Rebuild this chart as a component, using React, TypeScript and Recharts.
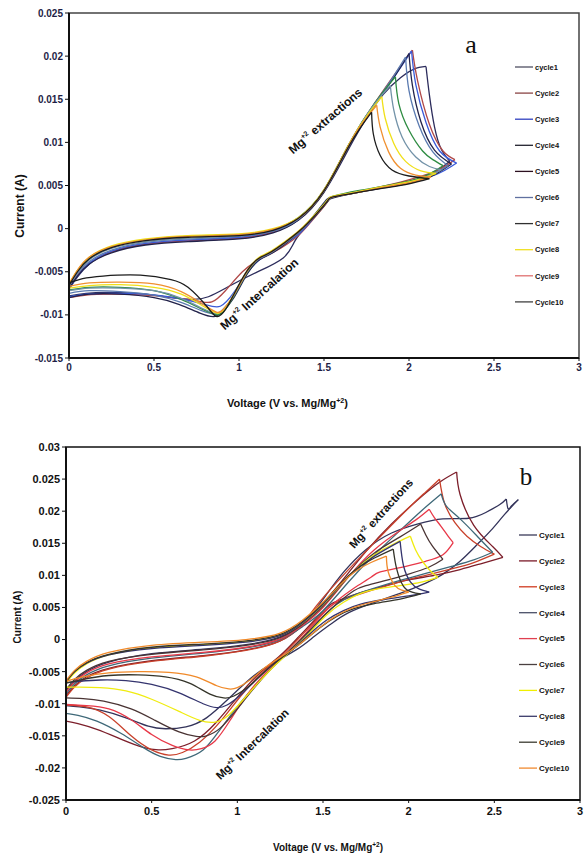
import React from "react"
import { LineChart, Line, XAxis, YAxis, ReferenceArea } from "recharts"

type Pt = [number, number]

// ---- panel a : voltage (V), current (A) ----
const cycleA1: Pt[] = [
  [0, -0.007], [0.05, -0.0056], [0.12, -0.0041], [0.25, -0.0027], [0.45, -0.0018], [0.7, -0.0014], [1.0, -0.0011],
  [1.2, -0.0004], [1.35, 0.001], [1.5, 0.0042], [1.65, 0.0094], [1.75, 0.0128], [1.85, 0.0156], [1.95, 0.0175],
  [2.03, 0.0185], [2.1, 0.0188],
  [2.12, 0.0155], [2.15, 0.0118], [2.19, 0.0092], [2.24, 0.0078],
  [2.1, 0.006], [1.9, 0.005], [1.7, 0.0043], [1.55, 0.0037], [1.5, 0.003], [1.42, 0.001], [1.33, -0.0014],
  [1.26, -0.0034], [1.1, -0.0051], [0.95, -0.0066], [0.82, -0.0079], [0.72, -0.0082], [0.6, -0.008],
  [0.45, -0.0076], [0.25, -0.0074], [0.1, -0.0075], [0, -0.0078],
]
const cycleA2: Pt[] = [
  [0, -0.0068], [0.05, -0.0054], [0.12, -0.004], [0.25, -0.0027], [0.45, -0.0018], [0.7, -0.0014], [1.0, -0.0011],
  [1.2, -0.0004], [1.35, 0.0011], [1.5, 0.0045], [1.65, 0.0099], [1.8, 0.0146], [1.92, 0.018], [2.02, 0.0207],
  [2.05, 0.0172], [2.12, 0.0121], [2.2, 0.009], [2.27, 0.008],
  [2.15, 0.0066], [1.95, 0.0054], [1.75, 0.0045], [1.56, 0.0037], [1.52, 0.0031], [1.45, 0.0014], [1.36, -0.0006],
  [1.25, -0.0022], [1.12, -0.0036], [1.02, -0.005], [0.92, -0.0072], [0.84, -0.0085], [0.76, -0.0084],
  [0.62, -0.008], [0.45, -0.0077], [0.25, -0.0076], [0.1, -0.0077], [0, -0.008],
]
const cycleA3: Pt[] = [
  [0, -0.007], [0.05, -0.0055], [0.12, -0.004], [0.25, -0.0026], [0.45, -0.0017], [0.7, -0.0013], [1.0, -0.001],
  [1.2, -0.0003], [1.35, 0.0011], [1.5, 0.0044], [1.65, 0.0098], [1.8, 0.0145], [1.92, 0.0178], [2.015, 0.0206],
  [2.04, 0.0167], [2.1, 0.0123], [2.18, 0.009], [2.28, 0.0076],
  [2.15, 0.0062], [1.95, 0.0052], [1.75, 0.0044], [1.56, 0.0037], [1.52, 0.0032], [1.45, 0.0015], [1.36, -0.0005],
  [1.25, -0.002], [1.15, -0.0032], [1.07, -0.0046], [0.97, -0.0074], [0.89, -0.009], [0.8, -0.0088],
  [0.65, -0.0081], [0.45, -0.0076], [0.25, -0.0075], [0.1, -0.0076], [0, -0.0079],
]
const cycleA4: Pt[] = [
  [0, -0.0069], [0.05, -0.0055], [0.12, -0.0041], [0.25, -0.0028], [0.45, -0.0019], [0.7, -0.0015], [1.0, -0.0012],
  [1.2, -0.0005], [1.35, 0.001], [1.5, 0.0043], [1.65, 0.0097], [1.8, 0.0144], [1.92, 0.0178], [2.0, 0.0203],
  [2.02, 0.0166], [2.07, 0.0124], [2.15, 0.0091], [2.25, 0.0075],
  [2.1, 0.0058], [1.9, 0.0049], [1.7, 0.0042], [1.56, 0.0036], [1.52, 0.0031], [1.45, 0.0015], [1.36, -0.0003],
  [1.27, -0.0018], [1.18, -0.003], [1.12, -0.0036], [1.05, -0.0052], [0.97, -0.008], [0.9, -0.0097],
  [0.85, -0.0102], [0.77, -0.0098], [0.65, -0.0088], [0.5, -0.008], [0.3, -0.0076], [0.12, -0.0076], [0, -0.008],
]
const cycleA5: Pt[] = [
  [0, -0.0067], [0.05, -0.0052], [0.12, -0.0038], [0.25, -0.0025], [0.45, -0.0016], [0.7, -0.0012], [1.0, -0.0009],
  [1.2, -0.0003], [1.35, 0.0011], [1.5, 0.0044], [1.65, 0.0098], [1.8, 0.0145], [1.9, 0.0174], [1.98, 0.0199],
  [2.0, 0.016], [2.06, 0.0119], [2.14, 0.0089], [2.23, 0.0073],
  [2.1, 0.006], [1.9, 0.005], [1.7, 0.0043], [1.56, 0.0037], [1.52, 0.0032], [1.45, 0.0016], [1.36, -0.0003],
  [1.27, -0.0017], [1.18, -0.0029], [1.12, -0.0035], [1.05, -0.005], [0.97, -0.0078], [0.9, -0.0095],
  [0.86, -0.0099], [0.78, -0.0095], [0.65, -0.0085], [0.5, -0.0077], [0.3, -0.0073], [0.12, -0.0072], [0, -0.0075],
]
const cycleA6: Pt[] = [
  [0, -0.0065], [0.05, -0.0049], [0.12, -0.0034], [0.25, -0.0021], [0.45, -0.0013], [0.7, -0.0009], [1.0, -0.0007],
  [1.2, -0.0001], [1.35, 0.0013], [1.5, 0.0045], [1.65, 0.0099], [1.8, 0.0146], [1.92, 0.0176],
  [1.94, 0.0145], [2.0, 0.0114], [2.08, 0.009], [2.14, 0.008], [2.2, 0.0073],
  [2.08, 0.006], [1.9, 0.0051], [1.7, 0.0044], [1.56, 0.0038], [1.52, 0.0033], [1.45, 0.0017], [1.36, -0.0002],
  [1.27, -0.0016], [1.18, -0.0028], [1.12, -0.0034], [1.05, -0.005], [0.97, -0.0078], [0.91, -0.0096],
  [0.87, -0.01], [0.79, -0.0094], [0.66, -0.0082], [0.5, -0.0072], [0.3, -0.0068], [0.12, -0.0068], [0, -0.0071],
]
const cycleA7: Pt[] = [
  [0, -0.0066], [0.05, -0.0051], [0.12, -0.0036], [0.25, -0.0023], [0.45, -0.0015], [0.7, -0.0011], [1.0, -0.0008],
  [1.2, -0.0002], [1.35, 0.0012], [1.5, 0.0044], [1.65, 0.0098], [1.78, 0.014], [1.89, 0.0166],
  [1.91, 0.0138], [1.96, 0.0106], [2.04, 0.0083], [2.12, 0.0072], [2.19, 0.0068],
  [2.06, 0.0057], [1.9, 0.005], [1.7, 0.0043], [1.56, 0.0037], [1.52, 0.0032], [1.45, 0.0016], [1.36, -0.0002],
  [1.27, -0.0016], [1.18, -0.0028], [1.12, -0.0034], [1.05, -0.0049], [0.97, -0.0077], [0.91, -0.0094],
  [0.86, -0.0098], [0.78, -0.0092], [0.65, -0.008], [0.5, -0.0072], [0.3, -0.0069], [0.12, -0.0069], [0, -0.0072],
]
const cycleA8: Pt[] = [
  [0, -0.0064], [0.05, -0.0048], [0.12, -0.0033], [0.25, -0.002], [0.45, -0.0012], [0.7, -0.0008], [1.0, -0.0006],
  [1.2, 0.0], [1.35, 0.0013], [1.5, 0.0045], [1.65, 0.0099], [1.76, 0.0133], [1.84, 0.0153],
  [1.86, 0.0128], [1.91, 0.0099], [1.98, 0.0078], [2.07, 0.0067], [2.16, 0.0064],
  [2.02, 0.0055], [1.85, 0.0049], [1.7, 0.0043], [1.56, 0.0038], [1.52, 0.0033], [1.45, 0.0017], [1.36, -0.0001],
  [1.27, -0.0015], [1.18, -0.0027], [1.12, -0.0033], [1.05, -0.0048], [0.97, -0.0076], [0.91, -0.0094],
  [0.87, -0.0098], [0.79, -0.009], [0.66, -0.0076], [0.5, -0.0068], [0.3, -0.0065], [0.12, -0.0066], [0, -0.0069],
]
const cycleA9: Pt[] = [
  [0, -0.0064], [0.05, -0.0048], [0.12, -0.0033], [0.25, -0.0021], [0.45, -0.0013], [0.7, -0.0009], [1.0, -0.0007],
  [1.2, -0.0001], [1.35, 0.0012], [1.5, 0.0044], [1.65, 0.0098], [1.74, 0.0126], [1.81, 0.0143],
  [1.83, 0.0118], [1.88, 0.0089], [1.95, 0.007], [2.04, 0.0062], [2.13, 0.006],
  [2.0, 0.0053], [1.85, 0.0048], [1.7, 0.0042], [1.56, 0.0037], [1.52, 0.0032], [1.45, 0.0016], [1.36, -0.0002],
  [1.27, -0.0016], [1.18, -0.0028], [1.12, -0.0034], [1.05, -0.0049], [0.97, -0.0077], [0.91, -0.0093],
  [0.87, -0.0097], [0.79, -0.0088], [0.66, -0.0073], [0.5, -0.0064], [0.3, -0.0062], [0.12, -0.0063], [0, -0.0067],
]
const cycleA10: Pt[] = [
  [0, -0.0066], [0.05, -0.005], [0.12, -0.0035], [0.25, -0.0022], [0.45, -0.0014], [0.7, -0.001], [1.0, -0.0008],
  [1.2, -0.0002], [1.35, 0.0012], [1.5, 0.0044], [1.65, 0.0097], [1.78, 0.0135],
  [1.79, 0.011], [1.83, 0.0085], [1.9, 0.0068], [2.0, 0.0061], [2.12, 0.0058],
  [2.0, 0.0052], [1.85, 0.0047], [1.7, 0.0042], [1.56, 0.0037], [1.52, 0.0032], [1.45, 0.0016], [1.36, -0.0002],
  [1.27, -0.0016], [1.18, -0.0028], [1.12, -0.0034], [1.05, -0.0048], [0.97, -0.0076], [0.92, -0.0094],
  [0.87, -0.0102], [0.81, -0.009], [0.7, -0.0068], [0.6, -0.0059], [0.42, -0.0054], [0.2, -0.0055], [0.08, -0.0058],
  [0, -0.0063],
]

// ---- panel b ----
const cycleB1: Pt[] = [
  [0, -0.008], [0.05, -0.0065], [0.12, -0.005], [0.25, -0.0035], [0.5, -0.0022], [0.8, -0.0015], [1.05, -0.0008],
  [1.25, 0.0004], [1.4, 0.003], [1.52, 0.007], [1.62, 0.0105], [1.75, 0.014], [1.9, 0.0166], [2.05, 0.018],
  [2.2, 0.0188], [2.35, 0.0189], [2.45, 0.0198], [2.53, 0.021], [2.57, 0.0219],
  [2.58, 0.0204], [2.6, 0.0208], [2.64, 0.0218],
  [2.56, 0.0195], [2.48, 0.017], [2.4, 0.0148], [2.3, 0.0122], [2.2, 0.0102], [2.1, 0.0088], [1.95, 0.0072],
  [1.8, 0.0058], [1.65, 0.0042], [1.55, 0.0025], [1.45, 0.0005], [1.35, -0.0015], [1.2, -0.0038], [1.08, -0.006],
  [0.95, -0.0092], [0.82, -0.0122], [0.7, -0.0136], [0.58, -0.0139], [0.48, -0.0135], [0.35, -0.0122],
  [0.2, -0.011], [0.08, -0.0105], [0, -0.0103],
]
const cycleB2: Pt[] = [
  [0, -0.0088], [0.05, -0.0072], [0.12, -0.0058], [0.25, -0.0045], [0.5, -0.0033], [0.8, -0.0025], [1.05, -0.0016],
  [1.25, -0.0002], [1.38, 0.0022], [1.48, 0.005], [1.6, 0.0088], [1.75, 0.0137], [1.9, 0.018], [2.05, 0.0217],
  [2.18, 0.0245], [2.28, 0.0261],
  [2.3, 0.0226], [2.38, 0.0178], [2.49, 0.0145], [2.55, 0.0128],
  [2.42, 0.0118], [2.3, 0.0109], [2.15, 0.01], [2.0, 0.0093], [1.85, 0.0083], [1.72, 0.0073], [1.6, 0.0062],
  [1.53, 0.0052], [1.45, 0.003], [1.35, 0.0002], [1.25, -0.0025], [1.12, -0.0055], [1.0, -0.009], [0.88, -0.0128],
  [0.75, -0.0158], [0.62, -0.017], [0.54, -0.0172], [0.45, -0.0168], [0.32, -0.0155], [0.18, -0.014],
  [0.07, -0.0131], [0, -0.0127],
]
const cycleB3: Pt[] = [
  [0, -0.009], [0.05, -0.0074], [0.12, -0.006], [0.25, -0.0046], [0.5, -0.0034], [0.8, -0.0026], [1.05, -0.0017],
  [1.25, -0.0002], [1.38, 0.0024], [1.46, 0.0052], [1.6, 0.0095], [1.8, 0.0151], [2.0, 0.0205], [2.1, 0.023],
  [2.18, 0.025],
  [2.21, 0.0212], [2.27, 0.0182], [2.34, 0.0161], [2.42, 0.0145], [2.5, 0.0133],
  [2.38, 0.012], [2.25, 0.011], [2.1, 0.01], [1.95, 0.009], [1.8, 0.0078], [1.66, 0.0066], [1.56, 0.0055],
  [1.48, 0.0036], [1.38, 0.0008], [1.27, -0.0022], [1.15, -0.005], [1.02, -0.0088], [0.9, -0.0128],
  [0.78, -0.016], [0.68, -0.0176], [0.6, -0.018], [0.5, -0.0172], [0.38, -0.015], [0.25, -0.012],
  [0.12, -0.0105], [0, -0.0102],
]
const cycleB4: Pt[] = [
  [0, -0.0085], [0.05, -0.0069], [0.12, -0.0055], [0.25, -0.0041], [0.5, -0.0029], [0.8, -0.0021], [1.05, -0.0013],
  [1.25, 0.0], [1.38, 0.002], [1.5, 0.0045], [1.65, 0.009], [1.8, 0.0132], [1.95, 0.017], [2.08, 0.0202],
  [2.19, 0.0227],
  [2.22, 0.0208], [2.3, 0.0188], [2.4, 0.0161], [2.49, 0.0136],
  [2.38, 0.0124], [2.25, 0.0114], [2.1, 0.0103], [1.95, 0.0092], [1.8, 0.008], [1.67, 0.0068], [1.58, 0.0055],
  [1.5, 0.0035], [1.4, 0.0006], [1.28, -0.0025], [1.15, -0.0058], [1.02, -0.0098], [0.9, -0.014], [0.8, -0.0172],
  [0.7, -0.0185], [0.64, -0.0187], [0.55, -0.0182], [0.45, -0.0168], [0.32, -0.0146], [0.18, -0.0127],
  [0.07, -0.0118], [0, -0.0115],
]
const cycleB5: Pt[] = [
  [0, -0.0082], [0.05, -0.0066], [0.12, -0.0052], [0.25, -0.0038], [0.5, -0.0027], [0.8, -0.002], [1.05, -0.0012],
  [1.25, 0.0001], [1.38, 0.0022], [1.5, 0.005], [1.65, 0.0098], [1.8, 0.014], [1.95, 0.017], [2.05, 0.0188],
  [2.12, 0.0203],
  [2.15, 0.019], [2.19, 0.0176], [2.23, 0.0161], [2.26, 0.0151],
  [2.2, 0.0132], [2.1, 0.0122], [1.95, 0.0112], [1.83, 0.0105], [1.78, 0.0097], [1.68, 0.008], [1.58, 0.006],
  [1.5, 0.004], [1.4, 0.001], [1.3, -0.0018], [1.18, -0.0048], [1.06, -0.0085], [0.96, -0.0125], [0.87, -0.0158],
  [0.79, -0.017], [0.72, -0.0172], [0.62, -0.0165], [0.5, -0.0148], [0.38, -0.0125], [0.25, -0.0108],
  [0.12, -0.0103], [0, -0.0101],
]
const cycleB6: Pt[] = [
  [0, -0.0078], [0.05, -0.0062], [0.12, -0.0048], [0.25, -0.0034], [0.5, -0.0023], [0.8, -0.0016], [1.05, -0.0009],
  [1.25, 0.0003], [1.38, 0.0024], [1.5, 0.0052], [1.65, 0.0098], [1.8, 0.0135], [1.95, 0.016], [2.07, 0.018],
  [2.1, 0.0163], [2.14, 0.0145], [2.2, 0.0125],
  [2.12, 0.0113], [2.0, 0.0102], [1.88, 0.0093], [1.75, 0.0084], [1.68, 0.0076], [1.6, 0.006], [1.5, 0.0036],
  [1.4, 0.0008], [1.3, -0.0018], [1.2, -0.0045], [1.1, -0.0075], [1.0, -0.0108], [0.9, -0.0138], [0.82, -0.015],
  [0.76, -0.0151], [0.66, -0.0144], [0.52, -0.0126], [0.38, -0.0108], [0.22, -0.0096], [0.1, -0.0092],
  [0, -0.0091],
]
const cycleB7: Pt[] = [
  [0, -0.0068], [0.05, -0.0052], [0.12, -0.0038], [0.25, -0.0024], [0.5, -0.0013], [0.8, -0.0008], [1.05, -0.0003],
  [1.25, 0.0007], [1.38, 0.0026], [1.5, 0.0054], [1.65, 0.0098], [1.8, 0.0132], [1.92, 0.015], [2.01, 0.0161],
  [2.04, 0.014], [2.08, 0.0122], [2.13, 0.0106], [2.17, 0.0097],
  [2.08, 0.009], [1.95, 0.0084], [1.82, 0.0079], [1.72, 0.0072], [1.62, 0.0058], [1.52, 0.0038], [1.42, 0.001],
  [1.32, -0.0016], [1.22, -0.004], [1.12, -0.0068], [1.02, -0.0098], [0.93, -0.0122], [0.86, -0.0129],
  [0.78, -0.0126], [0.66, -0.0112], [0.5, -0.0093], [0.35, -0.008], [0.2, -0.0075], [0.08, -0.0074], [0, -0.0074],
]
const cycleB8: Pt[] = [
  [0, -0.0066], [0.05, -0.005], [0.12, -0.0037], [0.25, -0.0024], [0.5, -0.0014], [0.8, -0.0009], [1.05, -0.0004],
  [1.25, 0.0006], [1.38, 0.0026], [1.5, 0.0055], [1.65, 0.0098], [1.8, 0.013], [1.95, 0.0153],
  [1.97, 0.0115], [2.01, 0.009], [2.06, 0.0079], [2.12, 0.0074],
  [2.0, 0.0068], [1.85, 0.0062], [1.72, 0.0055], [1.62, 0.0045], [1.52, 0.003], [1.42, 0.0008], [1.32, -0.0016],
  [1.22, -0.0036], [1.12, -0.006], [1.02, -0.0086], [0.94, -0.0102], [0.88, -0.0106], [0.8, -0.01],
  [0.66, -0.0083], [0.5, -0.007], [0.35, -0.0064], [0.2, -0.0063], [0.08, -0.0065], [0, -0.0067],
]
const cycleB9: Pt[] = [
  [0, -0.0066], [0.05, -0.005], [0.12, -0.0036], [0.25, -0.0023], [0.5, -0.0012], [0.8, -0.0007], [1.05, -0.0002],
  [1.25, 0.0008], [1.38, 0.0028], [1.5, 0.0057], [1.65, 0.01], [1.8, 0.0127], [1.91, 0.0141],
  [1.93, 0.011], [1.97, 0.0083], [2.02, 0.0074], [2.07, 0.0071],
  [1.95, 0.0063], [1.8, 0.0056], [1.68, 0.0048], [1.58, 0.0036], [1.48, 0.0018], [1.38, -0.0004], [1.28, -0.0024],
  [1.18, -0.0045], [1.08, -0.007], [0.98, -0.0088], [0.92, -0.0091], [0.84, -0.0085], [0.72, -0.0068],
  [0.58, -0.0058], [0.42, -0.0055], [0.25, -0.0056], [0.1, -0.0062], [0, -0.0068],
]
const cycleB10: Pt[] = [
  [0, -0.0064], [0.05, -0.0048], [0.12, -0.0034], [0.25, -0.002], [0.5, -0.0009], [0.8, -0.0004], [1.05, 0.0],
  [1.25, 0.001], [1.38, 0.003], [1.5, 0.0058], [1.65, 0.0098], [1.78, 0.012], [1.87, 0.013],
  [1.88, 0.0106], [1.92, 0.0084], [1.96, 0.0077], [2.0, 0.0074],
  [1.9, 0.0066], [1.78, 0.0058], [1.66, 0.0048], [1.56, 0.0034], [1.46, 0.0014], [1.36, -0.0008], [1.26, -0.0026],
  [1.16, -0.0044], [1.08, -0.0062], [1.0, -0.0075], [0.95, -0.0077], [0.88, -0.0072], [0.76, -0.0058],
  [0.6, -0.0051], [0.42, -0.005], [0.25, -0.0052], [0.1, -0.0058], [0, -0.0065],
]

const cyclesA = [cycleA1, cycleA2, cycleA3, cycleA4, cycleA5, cycleA6, cycleA7, cycleA8, cycleA9, cycleA10]
const cyclesB = [cycleB1, cycleB2, cycleB3, cycleB4, cycleB5, cycleB6, cycleB7, cycleB8, cycleB9, cycleB10]

// plot colours (as seen on the curves) and legend swatch colours (as printed in the legends)
const colorsA = ["#2c2c5c", "#b04848", "#3a5ad8", "#22224a", "#5a7ab0", "#2e8c42", "#7292a8", "#f0e018", "#f09030", "#1c1c1c"]
const legendColorsA = ["#505062", "#8a4444", "#3040c0", "#22222e", "#2c1020", "#6070a0", "#303030", "#f0e020", "#e07070", "#404040"]
const labelsA = ["cycle1", "Cycle2", "Cycle3", "Cycle4", "Cycle5", "Cycle6", "Cycle7", "Cycle8", "Cycle9", "Cycle10"]

const colorsB = ["#33335a", "#7c1e2a", "#c8402a", "#3e6878", "#e83848", "#4a3434", "#f0ec10", "#34346e", "#35352a", "#f08a2a"]
const legendColorsB = ["#3a3a58", "#7a1a28", "#d03a20", "#4a5068", "#e04050", "#4a4040", "#f0f000", "#3a3a6a", "#3a3a30", "#f08a30"]
const labelsB = ["Cycle1", "Cycle2", "Cycle3", "Cycle4", "Cycle5", "Cycle6", "Cycle7", "Cycle8", "Cycle9", "Cycle10"]

const xTicks = [0, 0.5, 1, 1.5, 2, 2.5, 3]
const yTicksA = [-0.015, -0.01, -0.005, 0, 0.005, 0.01, 0.015, 0.02, 0.025]
const yTicksB = [-0.025, -0.02, -0.015, -0.01, -0.005, 0, 0.005, 0.01, 0.015, 0.02, 0.025, 0.03]

const SANS = "'Liberation Sans', Arial, sans-serif"
const SERIF = "'Liberation Serif', 'Times New Roman', serif"

// split a CV loop at the anodic peak and the switching vertex so each piece is a smooth curve
function splitLoop(pts: Pt[]) {
  let vtx = 0
  pts.forEach((p, k) => {
    if (p[0] > pts[vtx][0]) vtx = k
  })
  let pk = 0
  for (let k = 0; k <= vtx; k++) if (pts[k][1] > pts[pk][1]) pk = k
  const rows = (s: Pt[]) => s.map(([v, i]) => ({ v, i }))
  return [rows(pts.slice(0, pk + 1)), rows(pts.slice(pk, vtx + 1)), rows(pts.slice(vtx))]
}

const fmt = (v: number) => String(Number(v.toFixed(3)))

interface PanelProps {
  cycles: Pt[][]
  colors: string[]
  yDomain: [number, number]
  yTicks: number[]
  top: number
  margin: { top: number; right: number; bottom: number; left: number }
  yWidth: number
  tickSize: number
  tickColor: string
  borderColor: string
  xTickMargin: number
}

function CvPanel(p: PanelProps) {
  const tick = { fontSize: p.tickSize, fontWeight: 700, fill: p.tickColor, fontFamily: SANS }
  return (
    <div style={{ position: "absolute", left: 0, top: p.top }}>
      <LineChart width={588} height={420} margin={p.margin}>
        <ReferenceArea
          x1={0}
          x2={3}
          y1={p.yDomain[0]}
          y2={p.yDomain[1]}
          fill="none"
          stroke={p.borderColor}
          strokeWidth={1.5}
          ifOverflow="visible"
        />
        <XAxis
          dataKey="v"
          type="number"
          domain={[0, 3]}
          ticks={xTicks}
          interval={0}
          allowDataOverflow
          height={30}
          tick={tick}
          tickFormatter={fmt}
          tickSize={3}
          tickMargin={p.xTickMargin}
          axisLine={{ stroke: "#111", strokeWidth: 2 }}
          tickLine={{ stroke: "#111" }}
        />
        <YAxis
          type="number"
          domain={p.yDomain}
          ticks={p.yTicks}
          interval={0}
          allowDataOverflow
          width={p.yWidth}
          tick={tick}
          tickFormatter={fmt}
          tickSize={4}
          tickMargin={2}
          axisLine={{ stroke: "#111", strokeWidth: 2 }}
          tickLine={{ stroke: "#111" }}
        />
        {p.cycles.map((pts, c) =>
          splitLoop(pts).map((seg, s) => (
            <Line
              key={`c${c}-${s}`}
              data={seg}
              dataKey="i"
              type="natural"
              stroke={p.colors[c]}
              strokeWidth={1.3}
              dot={false}
              activeDot={false}
              legendType="none"
              isAnimationActive={false}
            />
          ))
        )}
      </LineChart>
    </div>
  )
}

function MgText({ x, y, angle, size, rest }: { x: number; y: number; angle: number; size: number; rest: string }) {
  return (
    <text
      transform={`translate(${x},${y}) rotate(${angle})`}
      textAnchor="middle"
      fontFamily={SANS}
      fontWeight={700}
      fontSize={size}
      fill="#111"
    >
      Mg
      <tspan dy={-size * 0.4} fontSize={size * 0.6}>
        +2
      </tspan>
      <tspan dy={size * 0.4}>{rest}</tspan>
    </text>
  )
}

function VoltTitle({ x, y, size }: { x: number; y: number; size: number }) {
  return (
    <text x={x} y={y} fontFamily={SANS} fontWeight={700} fontSize={size} fill="#111">
      Voltage (V vs. Mg/Mg
      <tspan dy={-size * 0.4} fontSize={size * 0.65}>
        +2
      </tspan>
      <tspan dy={size * 0.4}>)</tspan>
    </text>
  )
}

function LegendList({ labels, colors, x, y, gap, size }: { labels: string[]; colors: string[]; x: number; y: number; gap: number; size: number }) {
  return (
    <g>
      {labels.map((l, k) => (
        <g key={l}>
          <line x1={x} x2={x + 18} y1={y + k * gap} y2={y + k * gap} stroke={colors[k]} strokeWidth={1.3} />
          <text x={x + 20} y={y + k * gap + size * 0.36} fontFamily={SANS} fontWeight={700} fontSize={size} fill="#111">
            {l}
          </text>
        </g>
      ))}
    </g>
  )
}

export default function App() {
  return (
    <div style={{ position: "absolute", left: 0, top: 0, width: 588, height: 854, background: "#fff", overflow: "hidden" }}>
      <CvPanel
        cycles={cyclesA}
        colors={colorsA}
        yDomain={[-0.015, 0.025]}
        yTicks={yTicksA}
        top={0}
        margin={{ top: 13, right: 9, bottom: 32, left: 0 }}
        yWidth={69}
        tickSize={10}
        tickColor="#1e1e46"
        borderColor="#444"
        xTickMargin={3}
      />
      <CvPanel
        cycles={cyclesB}
        colors={colorsB}
        yDomain={[-0.025, 0.03]}
        yTicks={yTicksB}
        top={434}
        margin={{ top: 13, right: 8, bottom: 24, left: 0 }}
        yWidth={66}
        tickSize={11}
        tickColor="#111"
        borderColor="#111"
        xTickMargin={4}
      />
      <svg width={588} height={854} style={{ position: "absolute", left: 0, top: 0, pointerEvents: "none" }}>
        {/* panel a */}
        <text x={471} y={53} textAnchor="middle" fontFamily={SERIF} fontSize={26} fill="#111">
          a
        </text>
        <text transform="translate(24,206) rotate(-90)" textAnchor="middle" fontFamily={SANS} fontWeight={700} fontSize={12} fill="#111">
          Current (A)
        </text>
        <VoltTitle x={227} y={407} size={11} />
        <MgText x={328} y={124} angle={-41} size={12} rest=" extractions" />
        <MgText x={262} y={297} angle={-42} size={12} rest=" Intercalation" />
        <LegendList labels={labelsA} colors={legendColorsA} x={515} y={67} gap={26.1} size={7.5} />

        {/* panel b */}
        <text x={526} y={485} textAnchor="middle" fontFamily={SERIF} fontSize={25} fill="#111">
          b
        </text>
        <text transform="translate(21,617) rotate(-90)" textAnchor="middle" fontFamily={SANS} fontWeight={700} fontSize={10} fill="#111">
          Current (A)
        </text>
        <VoltTitle x={273} y={851} size={10} />
        <MgText x={384} y={516} angle={-48} size={11.5} rest=" extractions" />
        <MgText x={255} y={747} angle={-44} size={11.5} rest=" Intercalation" />
        <LegendList labels={labelsB} colors={legendColorsB} x={519} y={535} gap={25.9} size={8} />
      </svg>
    </div>
  )
}
